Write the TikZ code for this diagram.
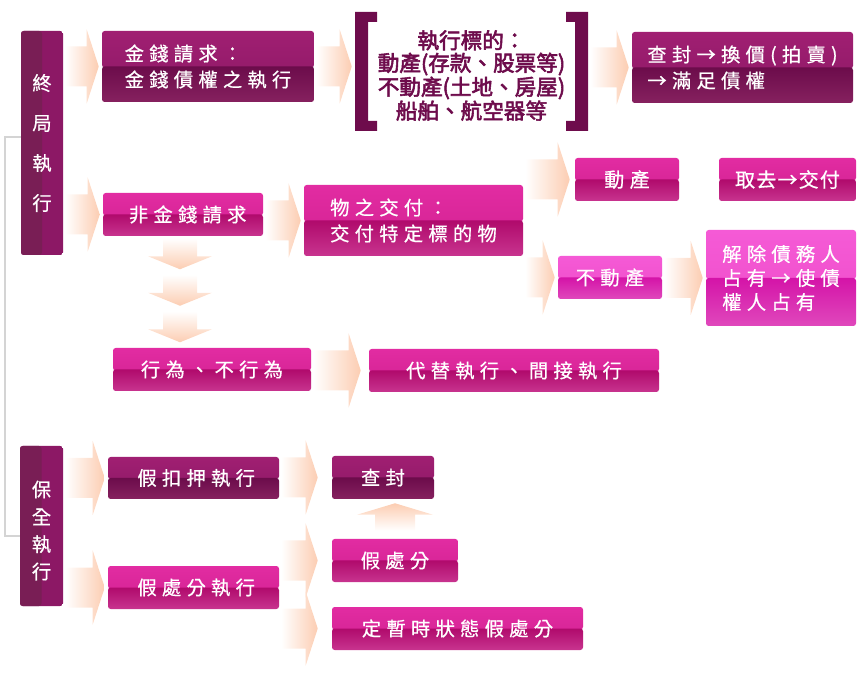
\documentclass[tikz,border=0pt]{standalone}
\usepackage{fontspec}
\newfontfamily\cjk[LetterSpace=27,FakeBold=0.6]{Noto Sans CJK TC}
\newfontfamily\cjktight[LetterSpace=6,FakeBold=0.6]{Noto Sans CJK TC}
\newfontfamily\cjkbold[FakeBold=2.6]{Noto Sans CJK TC}
\usetikzlibrary{calc}

\definecolor{plumA}{HTML}{A01F72}
\definecolor{plumB}{HTML}{8C1865}
\definecolor{plumC}{HTML}{6C0C4B}
\definecolor{plumD}{HTML}{86215F}
\definecolor{roseA}{HTML}{E22CA2}
\definecolor{roseB}{HTML}{D0208F}
\definecolor{roseC}{HTML}{B00A6C}
\definecolor{roseD}{HTML}{C8348F}
\definecolor{pinkA}{HTML}{F55AD6}
\definecolor{pinkB}{HTML}{EE4CC8}
\definecolor{pinkC}{HTML}{D414A8}
\definecolor{pinkD}{HTML}{E048BC}
\definecolor{peach}{HTML}{FCCDB2}
\definecolor{brk}{HTML}{6E0C4C}
\definecolor{grayline}{HTML}{D4D4D4}

% fat arrow from #2 to #3, tip #1 px before #3
\newcommand\fatarrow[3][3]{\shade[left color=white, right color=peach]
  ($(#2.east |- #3.west)+(2,-20)$) -- ($(#3.west)+(-#1-12,-20)$) -- ++(0,-17)
  -- ($(#3.west)+(-#1,0)$) -- ($(#3.west)+(-#1-12,37)$) -- ++(0,-17)
  -- ($(#2.east |- #3.west)+(2,20)$) -- cycle;}
\newcommand\downchev[1]{\shade[top color=white, bottom color=peach]
  ($(#1)+(-17,0)$) -- ++(34,0) -- ++(0,18) -- ++(15,0) -- ($(#1)+(0,31)$)
  -- ($(#1)+(-32,18)$) -- ++(15,0) -- cycle;}

\begin{document}
\begin{tikzpicture}[x=0.75pt,y=-0.75pt]
    \tikzset{gloss/.style n args={4}{path picture={
      \shade[top color=#1,bottom color=#2] (path picture bounding box.north west) rectangle ($(path picture bounding box.east)+(0,1)$);
      \shade[top color=#3,bottom color=#4] (path picture bounding box.west) rectangle (path picture bounding box.south east);}}}
    \tikzstyle{box}=[rectangle, rounded corners=2pt, inner sep=0pt, text=white, align=left, font=\cjk\fontsize{14.5}{19.5}\selectfont]
    \tikzstyle{plum}=[box, gloss={plumA}{plumB}{plumC}{plumD}]
    \tikzstyle{rose}=[box, gloss={roseA}{roseB}{roseC}{roseD}]
    \tikzstyle{pink}=[box, gloss={pinkA}{pinkB}{pinkC}{pinkD}]
    \tikzstyle{side}=[box, align=center, path picture={
      \fill[plumB] (path picture bounding box.north west) rectangle (path picture bounding box.south east);
      \fill[plumD!90!black] (path picture bounding box.north west) rectangle (path picture bounding box.south);}]
    \useasboundingbox (0,0) rectangle (865,684);

    \node[side, minimum width=31.5pt, minimum height=168pt, font=\cjk\fontsize{14.5}{30}\selectfont] (zj) at (42,143) {終\\局\\執\\行};
    \node[plum, minimum width=159pt, minimum height=53.25pt] (jq) at (208,66.5) {金錢請求：\\金錢債權之執行};
    \node[inner sep=0pt, align=center, text=brk, font=\cjkbold\fontsize{16.2}{16.9}\selectfont, minimum width=174.75pt] (bd) at (471.5,75.5) {執行標的：\\動產(存款、股票等)\\不動產(土地、房屋)\\船舶、航空器等};
    \node[plum, minimum width=165.75pt, minimum height=53.25pt] (hj) at (742.5,67.5) {查封→換價(拍賣)\\→滿足債權};
    \node[rose, minimum width=120pt, minimum height=32.25pt] (fj) at (183,214.5) {\hspace{7pt}非金錢請求};
    \node[rose, minimum width=164.25pt, minimum height=53.25pt] (wj) at (413.5,220.5) {物之交付：\\交付特定標的物};
    \node[rose, minimum width=78pt, minimum height=32.25pt, font=\cjk\fontsize{15}{19}\selectfont] (dc) at (627,179.5) {動產};
    \node[rose, minimum width=102.75pt, minimum height=32.25pt, font=\cjktight\fontsize{15}{19}\selectfont] (qq) at (787.5,179.5) {取去→交付};
    \node[pink, minimum width=78pt, minimum height=32.25pt] (bdc) at (610,277.5) {不動產};
    \node[pink, minimum width=112.5pt, minimum height=72pt, font=\cjk\fontsize{14.5}{18}\selectfont] (jc) at (781,278) {解除債務人\\占有→使債\\權人占有};
    \node[rose, minimum width=148.5pt, minimum height=32.25pt] (xw) at (212,369.5) {行為、不行為};
    \node[rose, minimum width=217.5pt, minimum height=32.25pt] (dt) at (514,370.5) {代替執行、間接執行};
    \node[side, minimum width=32.25pt, minimum height=120pt, font=\cjk\fontsize{14.5}{20.5}\selectfont] (bq) at (41.5,526) {\rule{0pt}{19pt}保\\全\\執\\行};
    \node[plum, minimum width=128.25pt, minimum height=31.5pt] (jk) at (193.5,478) {\hspace{4pt}假扣押執行};
    \node[plum, minimum width=76.5pt, minimum height=32.25pt] (cf) at (383,477.5) {查封};
    \node[rose, minimum width=94.5pt, minimum height=32.25pt] (jf) at (395,560.5) {假處分};
    \node[rose, minimum width=128.25pt, minimum height=32.25pt] (jfz) at (193.5,587.5) {\hspace{4pt}假處分執行};
    \node[rose, minimum width=188.25pt, minimum height=32.25pt] (dz) at (457.5,628.5) {定暫時狀態假處分};

    \coordinate (bdl) at (bd.west |- jq.east);
    \fill[brk] ($(bd.center)+(-116.5,-63.5)$) -- ++(22,0) -- ++(0,10) -- ++(-9,0) -- ++(0,99) -- ++(9,0) -- ++(0,10) -- ++(-22,0) -- cycle;
    \fill[brk] ($(bd.center)+(116.5,-63.5)$) -- ++(-22,0) -- ++(0,10) -- ++(9,0) -- ++(0,99) -- ++(-9,0) -- ++(0,10) -- ++(22,0) -- cycle;
    \draw[grayline, line width=1.5pt] ($(zj.west)+(0,-6)$) -- ++(-16,0) |- ($(bq.west)+(0,10)$);

    \fatarrow{zj}{jq}
    \fatarrow{zj}{fj}
    \fatarrow{jq}{bdl}
    \fatarrow{bd}{hj}
    \fatarrow{fj}{wj}
    \fatarrow[5]{wj}{dc}
    \fatarrow{wj}{bdc}
    \fatarrow{bdc}{jc}
    \fatarrow[8]{xw}{dt}
    \fatarrow{bq}{jk}
    \fatarrow{bq}{jfz}
    \fatarrow[14]{jk}{cf}
    \fatarrow[14]{jfz}{jf}
    \fatarrow[14]{jfz}{dz}
    \foreach \i in {0,1,2} {
      \coordinate (dv\i) at ($(fj.south)+(-3,2+36.5*\i)$);
      \downchev{dv\i}
    }
    \shade[bottom color=white, top color=peach] ($(jf.north)+(-20,-8)$) -- ++(0,-16) -- ++(-18,0)
      -- ($(cf.south -| jf.north)+(0,4)$) -- ($(jf.north)+(38,-24)$) -- ++(-18,0) -- ++(0,16) -- cycle;
\end{tikzpicture}
\end{document}
